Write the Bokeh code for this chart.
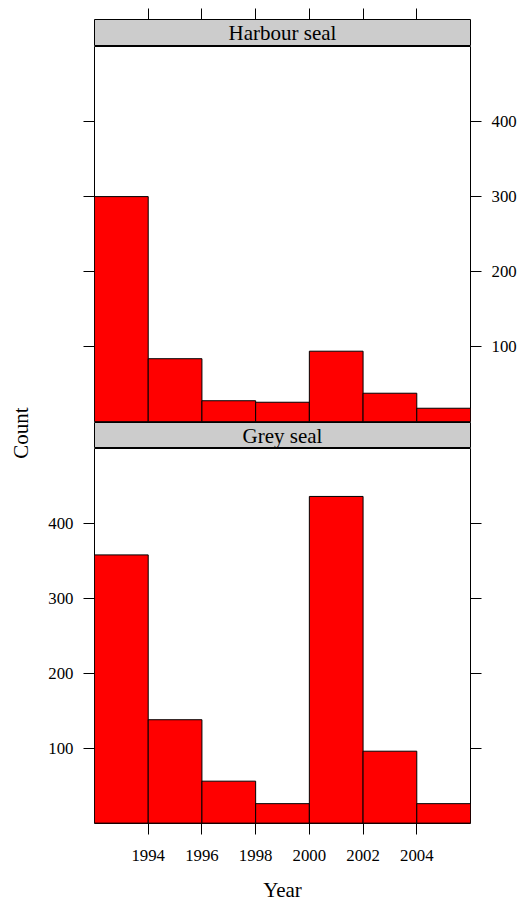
import math
from bokeh.plotting import figure
from bokeh.layouts import column, row
from bokeh.models import Range1d, LinearAxis, FixedTicker, Label, ColumnDataSource, CustomJSTickFormatter
from bokeh.embed import file_html
from bokeh.resources import INLINE

# ---- data ----
bin_edges = [1992, 1994, 1996, 1998, 2000, 2002, 2004, 2006]
harbour_counts = [300, 84, 28, 26, 94, 38, 18]
grey_counts = [358, 138, 56, 26, 436, 96, 26]
x_ticks = [1994, 1996, 1998, 2000, 2002, 2004]
y_ticks = [100, 200, 300, 400]
panel_names = ["Harbour seal", "Grey seal"]
x_label = "Year"
y_label = "Count"

FONT = "Liberation Serif"
TICK_FS = "16.8px"
LAB_FS = "21px"

x_range = Range1d(bin_edges[0], bin_edges[-1])

CW = 40          # width of the y-title column
FIG_W = 520 - CW
ML, MR = 94 - CW, 50


def base_fig(height, mb_top, mb_bottom, y_range):
    p = figure(width=FIG_W, height=height, x_range=x_range, y_range=y_range,
               output_backend="svg", toolbar_location=None, tools="",
               x_axis_location=None, y_axis_location=None)
    p.min_border = 0
    p.min_border_left = ML
    p.min_border_right = MR
    p.min_border_top = mb_top
    p.min_border_bottom = mb_bottom
    p.grid.visible = False
    p.outline_line_color = "black"
    p.outline_line_width = 1
    p.background_fill_color = "white"
    p.border_fill_color = "white"
    return p


def add_axis(p, side, ticks, labelled, standoff=10):
    ax = LinearAxis(ticker=FixedTicker(ticks=ticks))
    ax.axis_line_color = None
    ax.major_tick_in = 0
    ax.major_tick_out = 11
    ax.major_tick_line_color = "black"
    ax.minor_tick_line_color = None
    ax.major_label_text_font = FONT
    ax.major_label_text_color = "black"
    if labelled:
        ax.major_label_text_font_size = TICK_FS
        ax.major_label_standoff = standoff
    else:
        ax.formatter = CustomJSTickFormatter(code="return ''")
        ax.major_label_text_font_size = "0px"
        ax.major_label_standoff = 0
    p.add_layout(ax, side)
    return ax


def strip_fig(name, height, mb_top, top_ticks):
    p = base_fig(height, mb_top, 0, Range1d(0, 1))
    p.background_fill_color = "#cccccc"
    if top_ticks:
        add_axis(p, "above", x_ticks, False)
    p.add_layout(Label(x=(bin_edges[0] + bin_edges[-1]) / 2, y=0.5, text=name,
                       text_align="center", text_baseline="middle",
                       text_font=FONT, text_font_size=LAB_FS, text_color="black"))
    return p


def hist(p, counts):
    src = ColumnDataSource(dict(left=bin_edges[:-1], right=bin_edges[1:],
                                top=counts, bottom=[0] * len(counts)))
    p.quad(left="left", right="right", top="top", bottom="bottom", source=src,
           fill_color="#ff0000", line_color="black", line_width=1)


# top strip + panel
s1 = strip_fig(panel_names[0], 46, 19, True)
p1 = base_fig(376, 0, 0, Range1d(-1, 500))
hist(p1, harbour_counts)
add_axis(p1, "left", y_ticks, False)
add_axis(p1, "right", y_ticks, True, standoff=10)

# bottom strip + panel
s2 = strip_fig(panel_names[1], 26, 0, False)
p2 = base_fig(457, 0, 82, Range1d(-0.5, 500))
hist(p2, grey_counts)
add_axis(p2, "left", y_ticks, True, standoff=10)
add_axis(p2, "right", y_ticks, False)
bx = add_axis(p2, "below", x_ticks, True, standoff=15)
bx.axis_label = x_label
bx.axis_label_text_font = FONT
bx.axis_label_text_font_size = LAB_FS
bx.axis_label_text_font_style = "normal"
bx.axis_label_text_color = "black"
bx.axis_label_standoff = 14

# y-axis title column
TOTAL_H = 46 + 376 + 26 + 457
cf = figure(width=CW, height=TOTAL_H, x_range=Range1d(0, CW), y_range=Range1d(TOTAL_H, 0),
            output_backend="svg", toolbar_location=None, tools="",
            x_axis_location=None, y_axis_location=None)
cf.min_border = 0
cf.grid.visible = False
cf.outline_line_color = None
cf.border_fill_color = "white"
cf.background_fill_color = "white"
cf.add_layout(Label(x=20, y=432.5, text=y_label, angle=math.pi / 2,
                    text_align="center", text_baseline="middle",
                    text_font=FONT, text_font_size=LAB_FS, text_color="black"))

layout = row(cf, column(s1, p1, s2, p2, spacing=0), spacing=0)

with open("out.html", "w") as f:
    f.write(file_html(layout, INLINE))
